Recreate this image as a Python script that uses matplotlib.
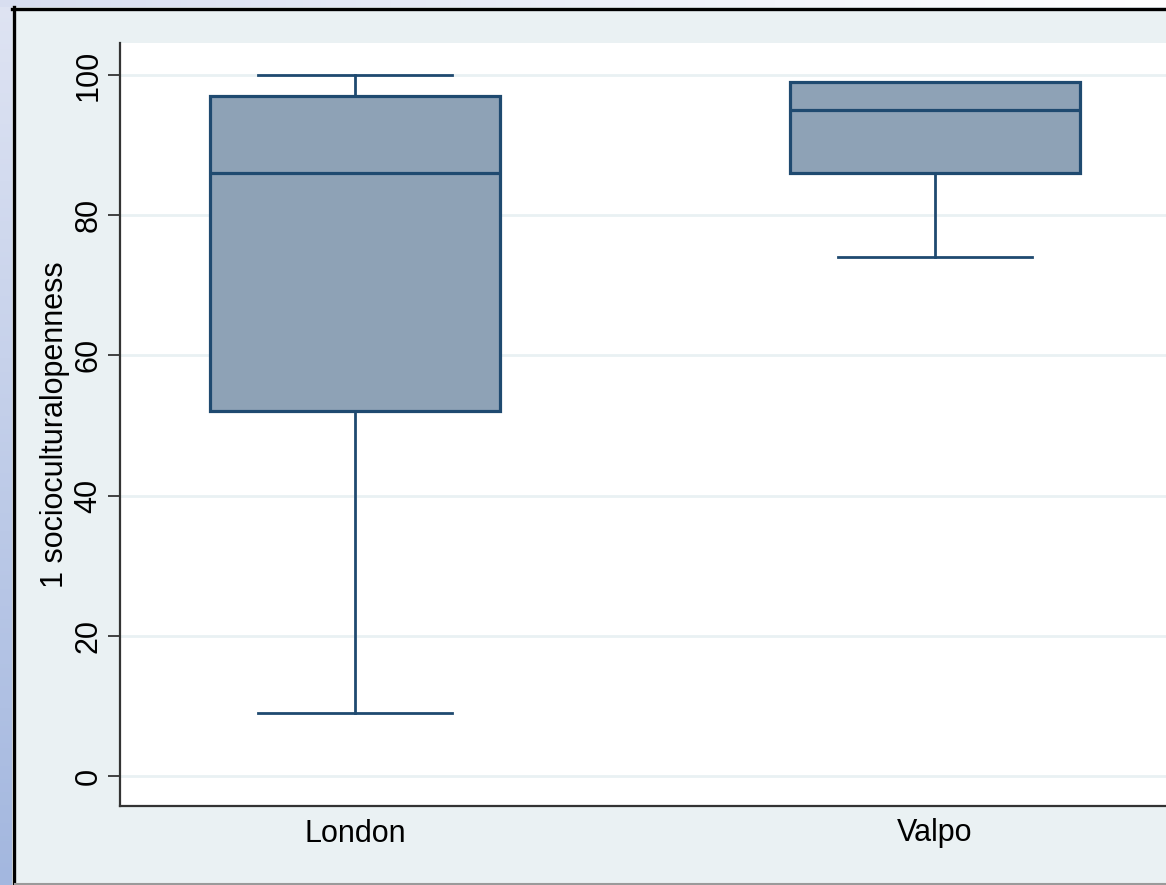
import numpy as np
import matplotlib
matplotlib.use("Agg")
import matplotlib.pyplot as plt

# values
groups = ["London", "Valpo"]
whislo = [9, 74]
q1 = [52, 86]
med = [86, 95]
q3 = [97, 99]
whishi = [100, 99]
y_ticks = [0, 20, 40, 60, 80, 100]
y_label = "1 socioculturalopenness"

edge = "#1f4a70"
fill = "#8ea2b6"
outer_bg = "#eaf1f3"

plt.rcParams["font.family"] = ["Liberation Sans", "DejaVu Sans"]

fig = plt.figure(figsize=(11.66, 8.85), dpi=100)
fig.patch.set_facecolor(outer_bg)

# slide-ish frame: blue strips left and top, black rule, grey line at bottom
grad = fig.add_axes([0, 0, 12 / 1166, 1], zorder=-5)
grad.imshow(np.linspace(0, 1, 200).reshape(-1, 1), aspect="auto", cmap=matplotlib.colors.LinearSegmentedColormap.from_list("s", ["#dfe4f3", "#a3b7df"]), extent=[0, 1, 0, 1], origin="upper")
grad.set_axis_off()
top = fig.add_axes([0, 1 - 7 / 885, 1, 7 / 885], zorder=-5)
top.imshow(np.linspace(0, 1, 200).reshape(1, -1), aspect="auto", cmap=matplotlib.colors.LinearSegmentedColormap.from_list("t", ["#d8def0", "#ffffff"]), extent=[0, 1, 0, 1])
top.set_axis_off()
fig.add_artist(plt.Line2D([13.5 / 1166, 13.5 / 1166], [0, 1 - 7 / 885], transform=fig.transFigure, color="black", lw=2.4))
fig.add_artist(plt.Line2D([12 / 1166, 1], [1 - 8.5 / 885, 1 - 8.5 / 885], transform=fig.transFigure, color="black", lw=2.4))
fig.add_artist(plt.Line2D([15 / 1166, 1], [1.5 / 885, 1.5 / 885], transform=fig.transFigure, color="#9a9a9a", lw=1.5))

ax = fig.add_axes([120 / 1166, 79 / 885, 1 - 120 / 1166, (806 - 43) / 885])
ax.set_facecolor("white")

stats = []
for i in range(len(groups)):
    stats.append({"label": groups[i], "whislo": whislo[i], "q1": q1[i], "med": med[i],
                  "q3": q3[i], "whishi": whishi[i], "fliers": []})

ax.bxp(stats, positions=[1, 2], widths=0.5, capwidths=0.334, patch_artist=True, showfliers=False,
       boxprops=dict(facecolor=fill, edgecolor=edge, linewidth=2.3),
       medianprops=dict(color=edge, linewidth=2.3),
       whiskerprops=dict(color=edge, linewidth=2.0),
       capprops=dict(color=edge, linewidth=2.0), zorder=3)

ax.set_ylim(-4.28, 104.56)
ax.set_xlim(1 - 235 / 580, 2 + 231 / 580)
ax.set_yticks(y_ticks)
ax.set_yticklabels([str(t) for t in y_ticks], rotation=90, va="center", fontsize=22)
ax.yaxis.grid(True, color="#e9f1f3", linewidth=2, zorder=0)
ax.set_axisbelow(True)
ax.tick_params(axis="y", length=9, width=1.3, color="#333333", pad=3)
ax.tick_params(axis="x", length=0, labelsize=22, pad=9)
ax.set_ylabel(y_label, fontsize=22)
ax.yaxis.set_label_coords(-0.048, 0.5)
for s in ["top", "right"]:
    ax.spines[s].set_visible(False)
for s in ["left", "bottom"]:
    ax.spines[s].set_color("#333333")
    ax.spines[s].set_linewidth(1.6)

fig.savefig("out.png", dpi=100, facecolor=fig.get_facecolor())
